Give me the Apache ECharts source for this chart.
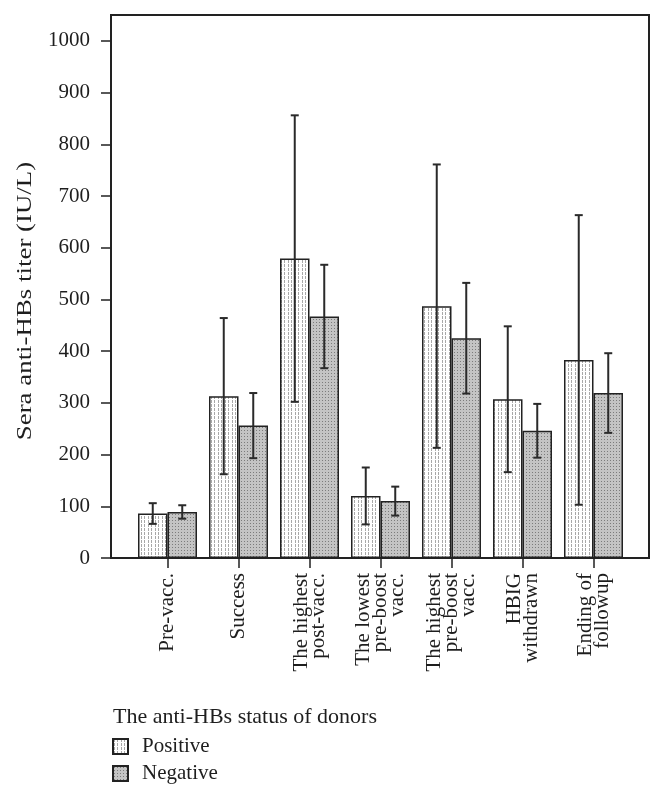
<!DOCTYPE html>
<html>
<head>
<meta charset="utf-8">
<script src="https://cdn.jsdelivr.net/npm/echarts@6/dist/echarts.min.js"></script>
<style>html,body{margin:0;padding:0;background:#fff;}#c{width:664px;height:798px;}</style>
</head>
<body>
<div id="c"></div>
<script>
const categories = ['Pre-vacc.', 'Success', 'The highest\npost-vacc.', 'The lowest\npre-boost\nvacc.', 'The highest\npre-boost\nvacc.', 'HBIG\nwithdrawn', 'Ending of\nfollowup'];
const positive = [86, 313, 579, 120, 487, 307, 383];
const positiveErr = [20, 151, 277, 55, 274, 141, 280];
const negative = [89, 256, 467, 110, 425, 246, 319];
const negativeErr = [13, 63, 100, 28, 107, 52, 77];
const yTicks = [0, 100, 200, 300, 400, 500, 600, 700, 800, 900, 1000];
const seriesNames = ['Positive', 'Negative'];
const yName = 'Sera anti-HBs titer (IU/L)';
const legendTitle = 'The anti-HBs status of donors';

const FONT = '"Liberation Serif", "Times New Roman", serif';
const FS = 21;
const INK = '#1e1e1e';
const BAR_W = 29.5;

function makePosPattern() {
  const c = document.createElement('canvas');
  c.width = 7; c.height = 4;
  const g = c.getContext('2d');
  g.fillStyle = '#ffffff'; g.fillRect(0, 0, 7, 4);
  g.fillStyle = '#a8a8a8';
  g.fillRect(1, 0, 1, 3);
  g.fillRect(4, 0, 1, 3);
  return c;
}
function makeNegPattern() {
  const c = document.createElement('canvas');
  c.width = 3; c.height = 3;
  const g = c.getContext('2d');
  g.fillStyle = '#c4c4c4'; g.fillRect(0, 0, 3, 3);
  g.fillStyle = '#7c7c7c';
  g.fillRect(1, 1, 1, 1);
  return c;
}
const posFill = { image: makePosPattern(), repeat: 'repeat' };
const negFill = { image: makeNegPattern(), repeat: 'repeat' };

function errSeries(vals, errs, side) {
  return {
    type: 'custom',
    xAxisIndex: 1, yAxisIndex: 1,
    z: 5,
    silent: true,
    data: vals.map((v, i) => [i, v, errs[i]]),
    renderItem: function (params, api) {
      const i = api.value(0);
      const v = api.value(1);
      const e = api.value(2);
      const top = api.coord([i, v + e]);
      const bot = api.coord([i, v - e]);
      const x = top[0] + side * BAR_W / 2;
      const cw = 4;
      const st = { stroke: '#2a2a2a', lineWidth: 2 };
      return {
        type: 'group',
        children: [
          { type: 'line', shape: { x1: x, y1: top[1], x2: x, y2: bot[1] }, style: st },
          { type: 'line', shape: { x1: x - cw, y1: top[1], x2: x + cw, y2: top[1] }, style: st },
          { type: 'line', shape: { x1: x - cw, y1: bot[1], x2: x + cw, y2: bot[1] }, style: st }
        ]
      };
    }
  };
}

const chart = echarts.init(document.getElementById('c'), null, { renderer: 'canvas' });
chart.setOption({
  backgroundColor: '#fff',
  animation: false,
  textStyle: { fontFamily: FONT, color: INK },
  grid: [
    { left: 111, right: 15, top: 15, bottom: 240, show: true, borderColor: '#222', borderWidth: 2, backgroundColor: 'transparent' },
    { left: 132, right: 35, top: 15, bottom: 240 }
  ],
  xAxis: [
    { type: 'value', gridIndex: 0, show: false, min: 0, max: 1 },
    {
      type: 'category', gridIndex: 1, data: categories,
      axisLine: { show: false },
      axisTick: { show: true, alignWithLabel: true, length: 10, inside: false, lineStyle: { color: '#222', width: 1.5 } },
      axisLabel: { rotate: 90, margin: 15, fontFamily: FONT, fontSize: FS, color: INK, lineHeight: 17, interval: 0 },
      splitLine: { show: false }
    }
  ],
  yAxis: [
    { type: 'value', gridIndex: 0, show: false, min: 0, max: 1 },
    {
      type: 'value', gridIndex: 1, min: 0, max: 1050, interval: 100, offset: 21,
      axisLine: { show: false },
      axisTick: { show: true, length: 10, customValues: yTicks, lineStyle: { color: '#222', width: 1.5 } },
      axisLabel: { margin: 21, fontFamily: FONT, fontSize: FS, color: INK, customValues: yTicks,
        formatter: v => (yTicks.indexOf(v) >= 0 ? String(v) : '') },
      splitLine: { show: false }
    }
  ],
  legend: {
    orient: 'vertical', left: 112, top: 736, padding: 0,
    itemWidth: 15, itemHeight: 15, itemGap: 6,
    icon: 'rect',
    data: seriesNames,
    textStyle: { fontFamily: FONT, fontSize: FS, color: INK, padding: [0, 0, 0, 9] }
  },
  graphic: [
    { type: 'text', x: 25, y: 301, rotation: Math.PI / 2, scaleX: 1.28,
      style: { text: yName, font: '21px ' + FONT, fill: INK, textAlign: 'center', textVerticalAlign: 'middle' } },
    { type: 'text', x: 113, y: 717,
      style: { text: legendTitle, font: '22px ' + FONT, fill: INK, textAlign: 'left', textVerticalAlign: 'middle' } }
  ],
  series: [
    { name: seriesNames[0], type: 'bar', xAxisIndex: 1, yAxisIndex: 1, data: positive, barWidth: BAR_W, barGap: '0%',
      itemStyle: { color: posFill, borderColor: '#222', borderWidth: 1.5 } },
    { name: seriesNames[1], type: 'bar', xAxisIndex: 1, yAxisIndex: 1, data: negative, barWidth: BAR_W, barGap: '0%',
      itemStyle: { color: negFill, borderColor: '#222', borderWidth: 1.5 } },
    errSeries(positive, positiveErr, -1),
    errSeries(negative, negativeErr, 1)
  ]
});
</script>
</body>
</html>
